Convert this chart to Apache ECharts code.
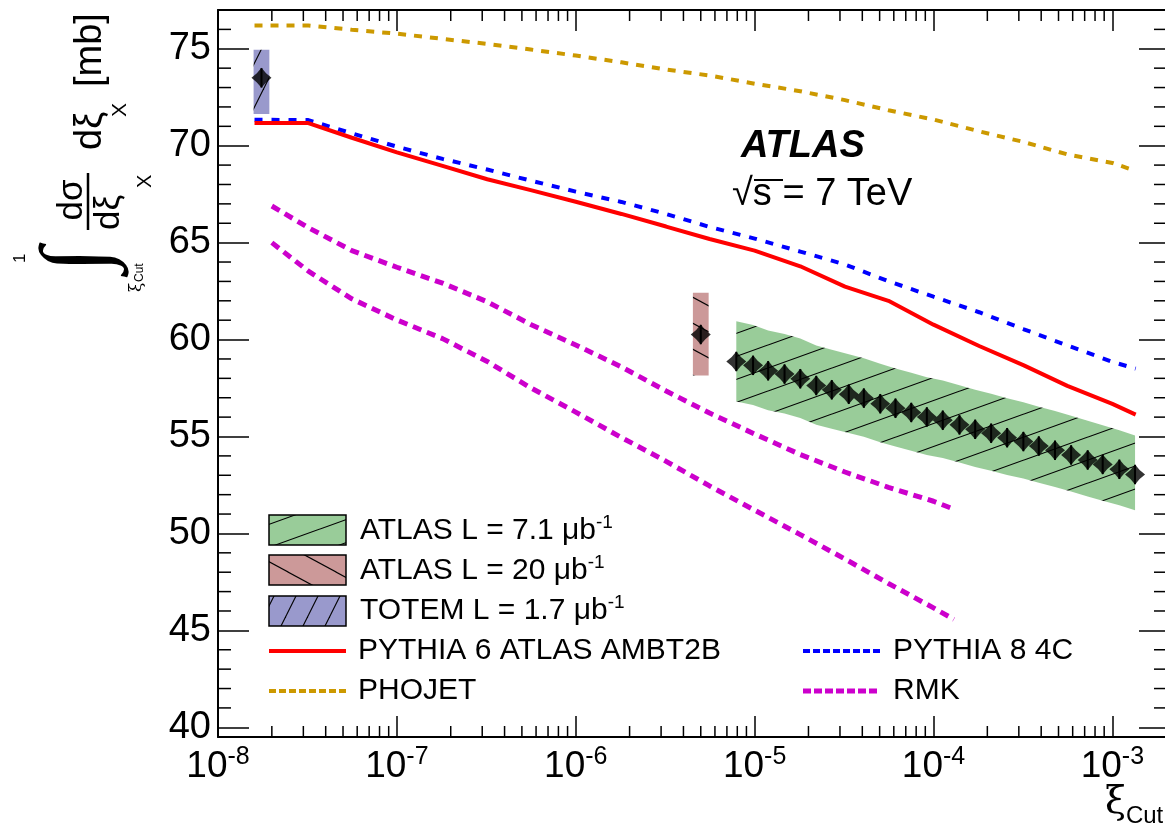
<!DOCTYPE html>
<html>
<head>
<meta charset="utf-8">
<title>Integrated diffractive cross section vs xi cut</title>
<script src="https://cdn.jsdelivr.net/npm/echarts@6/dist/echarts.min.js"></script>
<style>
  html, body { margin: 0; padding: 0; background: #fff; }
  #chart { width: 1165px; height: 840px; }
</style>
</head>
<body>
<div id="chart"></div>
<script>
// ---- data ----
// ATLAS L = 7.1 ub-1
var atlasXi = [7.9e-6, 9.8e-6, 1.19e-5, 1.47e-5, 1.80e-5, 2.21e-5, 2.70e-5, 3.36e-5, 4.08e-5, 5.04e-5, 6.13e-5, 7.51e-5, 9.18e-5,
  1.127e-4, 1.397e-4, 1.71e-4, 2.10e-4, 2.58e-4, 3.18e-4, 3.88e-4, 4.78e-4, 5.88e-4, 7.28e-4, 8.83e-4, 1.094e-3, 1.339e-3];
var atlasY = [58.87, 58.67, 58.39, 58.22, 57.98, 57.63, 57.41, 57.18, 56.98, 56.69, 56.46, 56.24, 56.01,
  55.84, 55.60, 55.37, 55.17, 54.94, 54.74, 54.51, 54.29, 54.05, 53.79, 53.56, 53.31, 53.04];
var atlasStat = [0.5, 0.5, 0.5, 0.5, 0.5, 0.5, 0.5, 0.5, 0.5, 0.5, 0.5, 0.5, 0.5,
  0.5, 0.5, 0.5, 0.5, 0.5, 0.5, 0.5, 0.5, 0.5, 0.5, 0.5, 0.5, 0.5];
var atlasSysUp = [2.08, 2.08, 2.08, 2.07, 2.07, 2.07, 2.07, 2.06, 2.06, 2.06, 2.05, 2.05, 2.05,
  2.05, 2.04, 2.04, 2.04, 2.03, 2.03, 2.03, 2.03, 2.02, 2.02, 2.02, 2.01, 2.01];
var atlasSysDn = [2.06, 2.05, 2.04, 2.03, 2.03, 2.02, 2.01, 2.00, 1.99, 1.98, 1.98, 1.97, 1.96,
  1.95, 1.94, 1.94, 1.93, 1.92, 1.91, 1.90, 1.90, 1.89, 1.88, 1.87, 1.86, 1.84];

// ATLAS L = 20 ub-1
var atlas20Xi = [5.0e-6];
var atlas20Y = [60.26];
var atlas20Stat = [0.5];
var atlas20SysUp = [2.15];
var atlas20SysDn = [2.11];

// TOTEM L = 1.7 ub-1
var totemXi = [1.75e-8];
var totemY = [73.5];
var totemStat = [0.5];
var totemSysUp = [1.45];
var totemSysDn = [1.86];

// MC predictions
var modelXi = [1.6e-8, 3.2e-8, 5.6e-8, 1e-7, 1.8e-7, 3.2e-7, 5.6e-7, 1e-6, 1.8e-6, 3.2e-6, 5.6e-6,
  1e-5, 1.8e-5, 3.2e-5, 5.6e-5, 1e-4, 1.8e-4, 3.2e-4, 5.6e-4, 1e-3, 1.35e-3];
var pythia6 = [71.17, 71.17, 70.41, 69.66, 68.96, 68.27, 67.71, 67.11, 66.48, 65.83, 65.19,
  64.59, 63.78, 62.73, 62.00, 60.77, 59.67, 58.67, 57.61, 56.68, 56.13];
var pythia8 = [71.34, 71.32, 70.64, 69.95, 69.32, 68.77, 68.20, 67.63, 67.10, 66.48, 65.81,
  65.21, 64.54, 63.87, 63.01, 62.21, 61.41, 60.53, 59.70, 58.85, 58.50];
var phojet = [76.20, 76.20, 75.98, 75.78, 75.51, 75.25, 74.96, 74.65, 74.30, 73.93, 73.62,
  73.20, 72.81, 72.35, 71.83, 71.35, 70.74, 70.19, 69.55, 69.11, 68.70];

var rmkXi = [2e-8, 3.2e-8, 5.6e-8, 1e-7, 1.8e-7, 3.2e-7, 5.6e-7, 1e-6, 1.8e-6, 3.2e-6, 5.6e-6,
  1e-5, 1.8e-5, 3.2e-5, 5.6e-5, 1e-4, 1.3e-4];
var rmkUpper = [66.89, 65.77, 64.59, 63.73, 62.91, 61.95, 60.78, 59.72, 58.59, 57.35, 56.21,
  55.13, 54.07, 53.17, 52.38, 51.66, 51.25];
var rmkLower = [65.00, 63.53, 62.10, 61.01, 60.05, 58.87, 57.51, 56.26, 54.95, 53.72, 52.45,
  51.20, 49.94, 48.68, 47.42, 46.16, 45.57];

// axis ranges / ticks
var X_MIN = 1e-8, X_MAX = 2.1e-3;
var Y_MIN = 39.5, Y_MAX = 77;
var xMinorTicks = [];
for (var d = -8; d <= -3; d++) {
  for (var m = 2; m <= 9; m++) {
    var t = m * Math.pow(10, d);
    if (t < X_MAX) xMinorTicks.push(t);
  }
}
var yMinorTicks = [];
for (var v = 41; v < Y_MAX; v++) {
  if (v % 5 !== 0) yMinorTicks.push(v);
}

var FONT = '"Liberation Sans", Arial, Helvetica, sans-serif';
var BOX_HALF_DEC = 0.044; // half-width of the systematic boxes (decades)

function hatch(bg, w, h, down) {
  var c = document.createElement('canvas');
  c.width = w; c.height = h;
  var g = c.getContext('2d');
  g.fillStyle = bg;
  g.fillRect(0, 0, w, h);
  g.strokeStyle = '#000';
  g.lineWidth = 1.1;
  for (var k = -1; k <= 1; k++) {
    g.beginPath();
    if (down) { g.moveTo(-w, -h + k * h); g.lineTo(2 * w, 2 * h + k * h); }
    else { g.moveTo(-w, 2 * h + k * h); g.lineTo(2 * w, -h + k * h); }
    g.stroke();
  }
  return { image: c, repeat: 'repeat' };
}
var greenHatch = hatch('#99cc99', 64, 23, false);
var pinkHatch = hatch('#cc9999', 48, 26, true);
var blueHatch = hatch('#9999cc', 22, 44, false);

function pairs(xs, ys) {
  return xs.map(function (x, i) { return [x, ys[i]]; });
}

function boxRender(fill) {
  return function (params, api) {
    var x = api.value(0), y = api.value(1), up = api.value(2), dn = api.value(3);
    var f = Math.pow(10, BOX_HALF_DEC);
    var p1 = api.coord([x / f, y + up]);
    var p2 = api.coord([x * f, y - dn]);
    return {
      type: 'rect',
      shape: { x: p1[0], y: p1[1], width: p2[0] - p1[0], height: p2[1] - p1[1] },
      style: { fill: fill, stroke: null }
    };
  };
}

var errData = [];
atlasXi.forEach(function (x, i) { errData.push([x, atlasY[i], atlasStat[i]]); });
errData.push([atlas20Xi[0], atlas20Y[0], atlas20Stat[0]]);
errData.push([totemXi[0], totemY[0], totemStat[0]]);

var markerData = pairs(atlasXi, atlasY)
  .concat(pairs(atlas20Xi, atlas20Y))
  .concat(pairs(totemXi, totemY));

function legendText(main, sup) {
  return {
    text: '{t|' + main + '}' + (sup ? '{s|' + sup + '}' : ''),
    verticalAlign: 'middle',
    rich: {
      t: { font: '30px ' + FONT, fill: '#000', lineHeight: 36, verticalAlign: 'middle' },
      s: { font: '19px ' + FONT, fill: '#000', lineHeight: 18, verticalAlign: 'top' }
    }
  };
}

var chart = echarts.init(document.getElementById('chart'));

var option = {
  animation: false,
  backgroundColor: '#fff',
  grid: { left: 218, top: 10, right: -5, bottom: 103, containLabel: false, outerBoundsMode: 'none' },
  xAxis: [{
    type: 'log', logBase: 10, min: X_MIN, max: X_MAX, position: 'bottom',
    axisLine: { show: true, lineStyle: { color: '#000', width: 2 } },
    axisTick: { show: true, inside: true, length: 21, lineStyle: { color: '#000', width: 1.5 } },
    splitLine: { show: false },
    axisLabel: {
      margin: 8,
      formatter: function (val) {
        var e = Math.log10(val);
        if (Math.abs(e - Math.round(e)) > 1e-6) return '';
        return '{b|10}{e|' + Math.round(e) + '}';
      },
      rich: {
        b: { fontFamily: FONT, fontSize: 37, color: '#000', lineHeight: 44, verticalAlign: 'middle' },
        e: { fontFamily: FONT, fontSize: 25, color: '#000', lineHeight: 20, verticalAlign: 'top' }
      }
    }
  }, {
    type: 'log', logBase: 10, min: X_MIN, max: X_MAX, position: 'top',
    axisLine: { show: true, lineStyle: { color: '#000', width: 2 } },
    axisTick: { show: true, inside: true, length: 21, lineStyle: { color: '#000', width: 1.5 } },
    splitLine: { show: false },
    axisLabel: { show: false }
  }],
  yAxis: [{
    type: 'value', min: Y_MIN, max: Y_MAX, minInterval: 5, maxInterval: 5, position: 'left',
    axisLine: { show: true, lineStyle: { color: '#000', width: 2 } },
    axisTick: { show: true, inside: true, length: 31, lineStyle: { color: '#000', width: 1.5 } },
    splitLine: { show: false },
    axisLabel: {
      margin: 7, fontFamily: FONT, fontSize: 38, color: '#000',
      formatter: function (val) { return val % 5 === 0 ? String(val) : ''; }
    }
  }, {
    // right frame lies just outside the picture, only its ticks show
    type: 'value', min: Y_MIN, max: Y_MAX, minInterval: 5, maxInterval: 5, position: 'right',
    axisLine: { show: false },
    axisTick: { show: true, inside: true, length: 31, lineStyle: { color: '#000', width: 1.5 } },
    splitLine: { show: false },
    axisLabel: { show: false }
  }],
  series: [
    {
      // ATLAS 7.1 ub-1 systematic band
      type: 'custom', silent: true, z: 2,
      data: [[atlasXi[0], atlasY[0]]],
      renderItem: function (params, api) {
        var pts = [];
        for (var i = 0; i < atlasXi.length; i++) pts.push(api.coord([atlasXi[i], atlasY[i] + atlasSysUp[i]]));
        for (var j = atlasXi.length - 1; j >= 0; j--) pts.push(api.coord([atlasXi[j], atlasY[j] - atlasSysDn[j]]));
        return { type: 'polygon', shape: { points: pts }, style: { fill: greenHatch, stroke: null } };
      }
    },
    {
      type: 'custom', silent: true, z: 2,
      data: [[atlas20Xi[0], atlas20Y[0], atlas20SysUp[0], atlas20SysDn[0]]],
      renderItem: boxRender(pinkHatch)
    },
    {
      type: 'custom', silent: true, z: 2,
      data: [[totemXi[0], totemY[0], totemSysUp[0], totemSysDn[0]]],
      renderItem: boxRender(blueHatch)
    },
    {
      name: 'PHOJET', type: 'line', showSymbol: false, silent: true, z: 3,
      data: pairs(modelXi, phojet),
      lineStyle: { color: '#cc9900', width: 4, type: [8, 8], cap: 'butt' }
    },
    {
      name: 'PYTHIA 8 4C', type: 'line', showSymbol: false, silent: true, z: 3,
      data: pairs(modelXi, pythia8),
      lineStyle: { color: '#0000ff', width: 4, type: [8, 9], cap: 'butt' }
    },
    {
      name: 'PYTHIA 6 ATLAS AMBT2B', type: 'line', showSymbol: false, silent: true, z: 3,
      data: pairs(modelXi, pythia6),
      lineStyle: { color: '#ff0000', width: 4 }
    },
    {
      name: 'RMK', type: 'line', showSymbol: false, silent: true, z: 3,
      data: pairs(rmkXi, rmkUpper),
      lineStyle: { color: '#cc00cc', width: 5, type: [9, 6], cap: 'butt' }
    },
    {
      name: 'RMK low', type: 'line', showSymbol: false, silent: true, z: 3,
      data: pairs(rmkXi, rmkLower),
      lineStyle: { color: '#cc00cc', width: 5, type: [9, 6], cap: 'butt' }
    },
    {
      // statistical error bars
      type: 'custom', silent: true, z: 4,
      data: errData,
      renderItem: function (params, api) {
        var x = api.value(0), y = api.value(1), e = api.value(2);
        var a = api.coord([x, y + e]), b = api.coord([x, y - e]);
        return { type: 'line', shape: { x1: a[0], y1: a[1], x2: b[0], y2: b[1] }, style: { stroke: '#000', lineWidth: 2 } };
      }
    },
    {
      type: 'scatter', silent: true, z: 5,
      data: markerData,
      symbol: 'path://M0,-10 L4.6,-4.6 L10,0 L4.6,4.6 L0,10 L-4.6,4.6 L-10,0 L-4.6,-4.6 Z',
      symbolSize: 20,
      itemStyle: { color: '#000' }
    },
    {
      // minor ticks on x (bottom and top)
      type: 'custom', silent: true, z: 6,
      data: xMinorTicks.map(function (t) { return [t, Y_MIN]; }),
      renderItem: function (params, api) {
        var x = api.value(0);
        var pb = api.coord([x, Y_MIN]), pt = api.coord([x, Y_MAX]);
        return {
          type: 'group', children: [
            { type: 'line', shape: { x1: pb[0], y1: pb[1], x2: pb[0], y2: pb[1] - 11 }, style: { stroke: '#000', lineWidth: 1.5 } },
            { type: 'line', shape: { x1: pt[0], y1: pt[1], x2: pt[0], y2: pt[1] + 11 }, style: { stroke: '#000', lineWidth: 1.5 } }
          ]
        };
      }
    },
    {
      // minor ticks on y (left and right)
      type: 'custom', silent: true, z: 6,
      data: yMinorTicks.map(function (t) { return [X_MIN, t]; }),
      renderItem: function (params, api) {
        var y = api.value(1);
        var pl = api.coord([X_MIN, y]), pr = api.coord([X_MAX, y]);
        return {
          type: 'group', children: [
            { type: 'line', shape: { x1: pl[0], y1: pl[1], x2: pl[0] + 13, y2: pl[1] }, style: { stroke: '#000', lineWidth: 1.5 } },
            { type: 'line', shape: { x1: pr[0], y1: pr[1], x2: pr[0] - 16, y2: pr[1] }, style: { stroke: '#000', lineWidth: 1.5 } }
          ]
        };
      }
    }
  ],
  graphic: [
    // ATLAS label
    { type: 'text', x: 741, y: 128, style: { text: 'ATLAS', font: 'italic bold 38px ' + FONT, fill: '#000', verticalAlign: 'top' } },
    { type: 'text', x: 732, y: 176, style: { text: '\u221As = 7 TeV', font: '38px ' + FONT, fill: '#000', verticalAlign: 'top' } },
    { type: 'line', shape: { x1: 754, y1: 180, x2: 783, y2: 180 }, style: { stroke: '#000', lineWidth: 2 } },

    // x axis title
    { type: 'text', x: 1105, y: 784, style: {
      text: '{g|\u03BE}{c|Cut}', verticalAlign: 'top',
      rich: {
        g: { font: '38px "DejaVu Serif", serif', fill: '#000', lineHeight: 44, verticalAlign: 'top' },
        c: { font: '24px ' + FONT, fill: '#000', lineHeight: 24, verticalAlign: 'bottom' }
      } } },

    // y axis title, rotated
    { type: 'group', x: 0, y: 300, rotation: Math.PI / 2, children: [
      { type: 'text', x: 37, y: 12, style: { text: '1', font: '17px ' + FONT, fill: '#000', verticalAlign: 'top' } },
      { type: 'text', x: 40, y: 80, style: { text: '\u222B', font: '92px "Liberation Serif", serif', fill: '#000', align: 'center', verticalAlign: 'middle' } },
      { type: 'text', x: 8, y: 128, style: { text: '\u03BE', font: '17px "DejaVu Serif", serif', fill: '#000', verticalAlign: 'top' } },
      { type: 'text', x: 18, y: 134, style: { text: 'Cut', font: '12px ' + FONT, fill: '#000', verticalAlign: 'top' } },
      { type: 'text', x: 100, y: 90, style: { text: 'd\u03C3', font: '35px ' + FONT, fill: '#000', align: 'center', verticalAlign: 'bottom' } },
      { type: 'line', shape: { x1: 70, y1: 88, x2: 127, y2: 88 }, style: { stroke: '#000', lineWidth: 2.5 } },
      { type: 'text', x: 70, y: 92, style: { text: 'd\u03BE', font: '35px ' + FONT, fill: '#000', verticalAlign: 'top' } },
      { type: 'text', x: 112, y: 135, style: { text: 'X', font: '20px ' + FONT, fill: '#000', verticalAlign: 'top' } },
      { type: 'text', x: 150, y: 72, style: { text: 'd\u03BE', font: '38px ' + FONT, fill: '#000', verticalAlign: 'top' } },
      { type: 'text', x: 183, y: 110, style: { text: 'X', font: '21px ' + FONT, fill: '#000', verticalAlign: 'top' } },
      { type: 'text', x: 213, y: 72, style: { text: '[mb]', font: '38px ' + FONT, fill: '#000', verticalAlign: 'top' } }
    ] },

    // legend
    { type: 'rect', shape: { x: 269, y: 515, width: 77, height: 30 }, style: { fill: greenHatch, stroke: '#000', lineWidth: 1.5 } },
    { type: 'rect', shape: { x: 269, y: 555, width: 77, height: 30 }, style: { fill: pinkHatch, stroke: '#000', lineWidth: 1.5 } },
    { type: 'rect', shape: { x: 269, y: 596, width: 77, height: 30 }, style: { fill: blueHatch, stroke: '#000', lineWidth: 1.5 } },
    { type: 'line', shape: { x1: 269, y1: 651, x2: 346, y2: 651 }, style: { stroke: '#ff0000', lineWidth: 4 } },
    { type: 'line', shape: { x1: 269, y1: 691, x2: 346, y2: 691 }, style: { stroke: '#cc9900', lineWidth: 4, lineDash: [7, 3] } },
    { type: 'line', shape: { x1: 803, y1: 651, x2: 880, y2: 651 }, style: { stroke: '#0000ff', lineWidth: 4, lineDash: [7, 3] } },
    { type: 'line', shape: { x1: 803, y1: 691, x2: 880, y2: 691 }, style: { stroke: '#cc00cc', lineWidth: 5, lineDash: [8, 3] } },
    { type: 'text', x: 360, y: 531, style: legendText('ATLAS L = 7.1 \u03BCb', '-1') },
    { type: 'text', x: 360, y: 571, style: legendText('ATLAS L = 20 \u03BCb', '-1') },
    { type: 'text', x: 360, y: 611, style: legendText('TOTEM L = 1.7 \u03BCb', '-1') },
    { type: 'text', x: 358, y: 651, style: legendText('PYTHIA 6 ATLAS AMBT2B', '') },
    { type: 'text', x: 358, y: 691, style: legendText('PHOJET', '') },
    { type: 'text', x: 893, y: 651, style: legendText('PYTHIA 8 4C', '') },
    { type: 'text', x: 893, y: 691, style: legendText('RMK', '') }
  ]
};

chart.setOption(option);
</script>
</body>
</html>
